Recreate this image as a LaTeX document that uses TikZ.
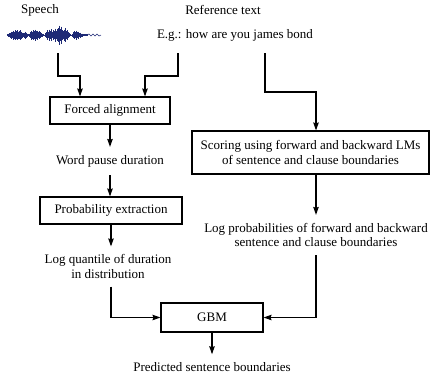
\documentclass[tikz,border=0pt]{standalone}
\usepackage{fontspec}
\setmainfont{Liberation Serif}
\usetikzlibrary{calc,arrows.meta,positioning}
\definecolor{wavecol}{RGB}{30,42,118}

\begin{document}
\begin{tikzpicture}[x=1pt, y=-1pt,
  font=\fontsize{13}{14.5}\selectfont,
  box/.style={rectangle, draw, line width=1.1pt, text centered, inner sep=2pt},
  txt/.style={align=center, inner xsep=1pt, inner ysep=8pt},
  arrow/.style={-{Stealth[length=8pt,width=5.5pt,inset=1pt]}, line width=1.1pt},
  wave/.style={draw=wavecol, line width=0.8pt}
]
  \useasboundingbox (0,0) rectangle (438,376);

  % inputs
  \node[txt, inner ysep=1pt] (speech) at (40,10) {Speech};
  \node[txt, inner ysep=1pt] (reftext) at (223,10) {Reference text};
  \node[txt, inner ysep=1pt] (example) at (235,35) {E.g.: how are you james bond};

  % speech waveform
  \draw[wave, line width=1pt] (7,35) -- (87,35);
  \foreach \x/\a in {7/1,8/1.5,9/2,10/2.5,11/3.5,12/3,13/4.5,14/3.5,15/5,16/4,17/5,18/3.5,19/4,20/5,21/3.5,22/2.5,23/2,24/2.5,25/3.5,26/2.5,27/1.5,28/1,
                     29/1.5,30/3,31/4.5,32/3.5,33/5,34/4,35/5.5,36/4,37/4.5,38/3,39/4,40/3,41/2,42/1.5,43/1,
                     45/2,46/3,47/5,48/3,49/5.5,50/4,51/6,52/3,53/5,54/4,55/6.5,56/4,57/6,58/7,59/9.5,60/6,61/8.5,62/5,63/4,64/5.5,65/7,66/4,67/5,68/3,69/2,70/1,
                     72/1.5,73/3,74/4,75/3,76/4.5,77/3,78/3.5,79/2,80/2.5,81/1.5,82/1.5,83/1,84/1,85/1,86/0.8,87/0.8}
    \draw[wave] (\x,35-\a) -- (\x,35+\a);
  \draw[wave, line width=0.5pt] (87,35) -- (89,34) -- (91,36) -- (93,34) -- (95,36) -- (97,34) -- (99,36) -- (101,35);

  \coordinate (speechout) at (58,53);
  \coordinate (refout) at (178,53);
  \coordinate (lmout) at (265,53);

  % left branch
  \node[box, minimum width=120pt, minimum height=27pt] (align) at (110,110.5) {Forced alignment};
  \node[txt] (pause) at (110,161) {Word pause duration};
  \node[box, minimum width=142pt, minimum height=27pt] (prob) at (111,210.5) {Probability extraction};
  \node[txt] (quantile) at (108,266.5) {Log quantile of duration\\in distribution};

  % right branch
  \node[box, minimum width=237pt, minimum height=43pt, align=center] (score) at (310.5,152.5) {Scoring using forward and backward LMs\\of sentence and clause boundaries};
  \node[txt] (logprob) at (316,235) {Log probabilities of forward and backward\\sentence and clause boundaries};

  % classifier
  \node[box, minimum width=102pt, minimum height=29pt] (gbm) at (212,317.5) {GBM};
  \node[txt] (predicted) at (212,367) {Predicted sentence boundaries};

  \draw[arrow] (speechout) -- ++(0,23) -| ($(align.north)+(-30,0)$);
  \draw[arrow] (refout) -- ++(0,23) -| ($(align.north)+(35,0)$);
  \draw[arrow] (lmout) -- ++(0,39) -| ($(score.north)+(5.5,0)$);

  \draw[arrow] (align) -- (pause);
  \draw[arrow] (pause) -- (pause |- prob.north);
  \draw[arrow] (prob.south) -- (prob.south |- quantile.north);

  \draw[arrow] (score.south -| logprob.north) -- (logprob.north);

  \draw[arrow] ($(quantile.south)+(3,0)$) |- (gbm.west);
  \draw[arrow] (logprob.south) |- (gbm.east);
  \draw[arrow] (gbm) -- (predicted);
\end{tikzpicture}
\end{document}
